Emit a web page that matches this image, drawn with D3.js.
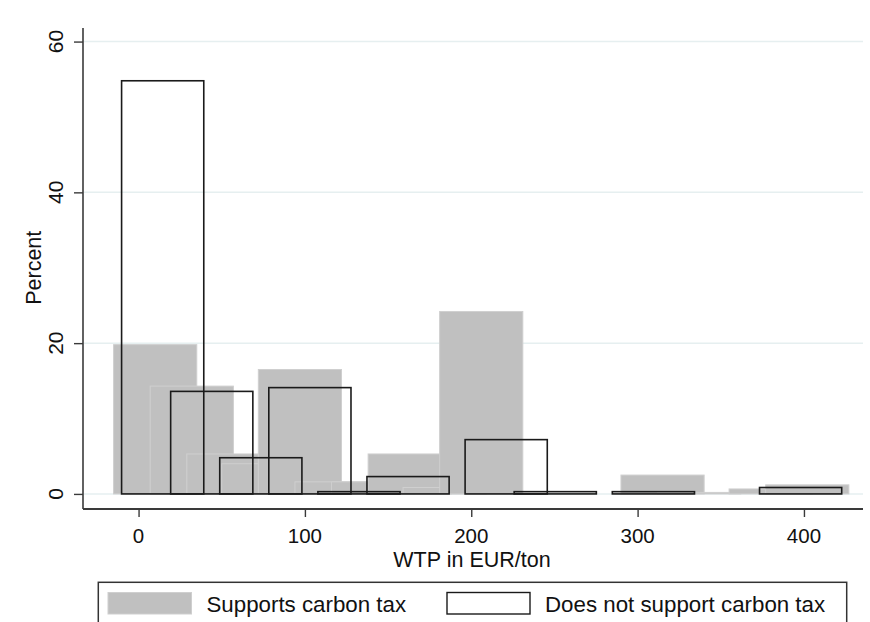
<!DOCTYPE html>
<html>
<head>
<meta charset="utf-8">
<script src="https://cdn.jsdelivr.net/npm/d3@7"></script>
<style>
  html, body { margin: 0; padding: 0; background: #fff; }
  svg { display: block; font-family: "Liberation Sans", Arial, sans-serif; }
</style>
</head>
<body>
<svg id="chart" width="870" height="622"></svg>
<script>
// Histogram of WTP (EUR/ton): bar midpoints and percentages per group
const supportMid = [10, 32, 54, 75, 97, 119, 141, 163, 184, 206, 315, 337, 380, 402];
const supportPct = [19.8, 14.3, 5.3, 4.0, 16.5, 1.6, 1.6, 5.3, 0.85, 24.2, 2.5, 0.2, 0.66, 1.2];

const opposeMid = [14.5, 44, 73.5, 103, 132.5, 162, 221, 250.5, 309.5, 398];
const opposePct = [54.8, 13.6, 4.8, 14.1, 0.3, 2.3, 7.2, 0.3, 0.3, 0.85];

const xTicks = [0, 100, 200, 300, 400];
const yTicks = [0, 20, 40, 60];
const legendLabels = ["Supports carbon tax", "Does not support carbon tax"];
const xTitle = "WTP in EUR/ton";
const yTitle = "Percent";

const supportWidth = 50;   // drawn bar width, EUR/ton
const opposeWidth = 49.4;

const svg = d3.select("#chart");

const plot = { left: 83, right: 863, top: 28, bottom: 509 };

const x = d3.scaleLinear().domain([-33.4, 435.5]).range([plot.left, plot.right]);
const y = d3.scaleLinear().domain([-2, 61.8]).range([plot.bottom, plot.top]);

// horizontal gridlines
svg.append("g")
  .selectAll("line")
  .data(yTicks)
  .join("line")
  .attr("x1", plot.left + 1)
  .attr("x2", plot.right)
  .attr("y1", d => y(d))
  .attr("y2", d => y(d))
  .attr("stroke", "#e6eff0")
  .attr("stroke-width", 1.5);

// supporters: filled grey bars
const supportData = supportMid.map((m, i) => ({ mid: m, pct: supportPct[i] }));
svg.append("g")
  .selectAll("rect")
  .data(supportData)
  .join("rect")
  .attr("x", d => x(d.mid - supportWidth / 2))
  .attr("width", d => x(d.mid + supportWidth / 2) - x(d.mid - supportWidth / 2))
  .attr("y", d => y(d.pct))
  .attr("height", d => y(0) - y(d.pct))
  .attr("fill", "#c0c0c0")
  .attr("stroke", "#cfcfcf")
  .attr("stroke-width", 1);

// non-supporters: outlined bars
const opposeData = opposeMid.map((m, i) => ({ mid: m, pct: opposePct[i] }));
svg.append("g")
  .selectAll("rect")
  .data(opposeData)
  .join("rect")
  .attr("x", d => x(d.mid - opposeWidth / 2))
  .attr("width", d => x(d.mid + opposeWidth / 2) - x(d.mid - opposeWidth / 2))
  .attr("y", d => y(d.pct))
  .attr("height", d => y(0) - y(d.pct))
  .attr("fill", "none")
  .attr("stroke", "#1a1a1a")
  .attr("stroke-width", 1.6);

// y axis
const yAxis = svg.append("g")
  .attr("transform", `translate(${plot.left},0)`)
  .call(d3.axisLeft(y).tickValues(yTicks).tickSize(9).tickPadding(0).tickFormat(""));
yAxis.select(".domain").attr("d", `M0,${plot.top}V${plot.bottom}`).attr("stroke", "#3a3a3a").attr("stroke-width", 1.6);
yAxis.selectAll(".tick line").attr("stroke", "#3a3a3a").attr("stroke-width", 1.4);

svg.append("g")
  .selectAll("text")
  .data(yTicks)
  .join("text")
  .attr("transform", d => `translate(63,${y(d)}) rotate(-90)`)
  .attr("text-anchor", "middle")
  .attr("font-size", 21)
  .attr("fill", "#111")
  .text(d => d);

svg.append("text")
  .attr("transform", `translate(41,${(y(0) + y(60)) / 2 + 0}) rotate(-90)`)
  .attr("text-anchor", "middle")
  .attr("font-size", 21.5)
  .attr("fill", "#111")
  .text(yTitle);

// x axis
const xAxis = svg.append("g")
  .attr("transform", `translate(0,${plot.bottom})`)
  .call(d3.axisBottom(x).tickValues(xTicks).tickSize(8).tickFormat(""));
xAxis.select(".domain").attr("d", `M${plot.left},0H${plot.right}`).attr("stroke", "#3a3a3a").attr("stroke-width", 2);
xAxis.selectAll(".tick line").attr("stroke", "#3a3a3a").attr("stroke-width", 1.4);

svg.append("g")
  .selectAll("text")
  .data(xTicks)
  .join("text")
  .attr("x", d => x(d))
  .attr("y", 543)
  .attr("text-anchor", "middle")
  .attr("font-size", 20.5)
  .attr("fill", "#111")
  .text(d => d);

svg.append("text")
  .attr("x", (plot.left + plot.right) / 2 - 1)
  .attr("y", 567)
  .attr("text-anchor", "middle")
  .attr("font-size", 21.5)
  .attr("fill", "#111")
  .text(xTitle);

// legend
const legend = svg.append("g");
legend.append("rect")
  .attr("x", 98.3).attr("y", 582.3)
  .attr("width", 748.4).attr("height", 60)
  .attr("fill", "#fff")
  .attr("stroke", "#333")
  .attr("stroke-width", 1.5);

legend.append("rect")
  .attr("x", 108).attr("y", 592.5).attr("width", 83.5).attr("height", 21.5)
  .attr("fill", "#c0c0c0").attr("stroke", "#cfcfcf").attr("stroke-width", 1);
legend.append("text")
  .attr("x", 206.5).attr("y", 611.5)
  .attr("font-size", 22.3).attr("fill", "#111")
  .text(legendLabels[0]);

legend.append("rect")
  .attr("x", 447).attr("y", 592.5).attr("width", 83).attr("height", 21.5)
  .attr("fill", "#fff").attr("stroke", "#1a1a1a").attr("stroke-width", 1.4);
legend.append("text")
  .attr("x", 545).attr("y", 611.5)
  .attr("font-size", 22.3).attr("fill", "#111")
  .text(legendLabels[1]);
</script>
</body>
</html>
